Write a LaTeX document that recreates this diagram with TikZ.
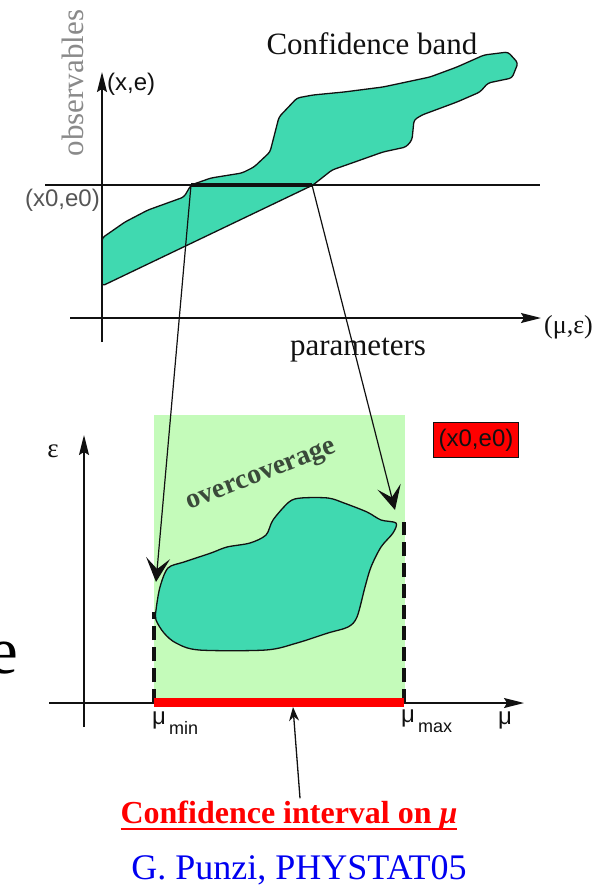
\documentclass[tikz,border=0pt]{standalone}
\usepackage{fontspec}
\setmainfont{Liberation Serif}
\setsansfont{Liberation Sans}
\usetikzlibrary{arrows.meta}
\definecolor{ink}{HTML}{111111}
\definecolor{gr}{HTML}{8A8A8A}
\definecolor{dgr}{HTML}{555555}
\definecolor{bandf}{HTML}{40D9B0}
\definecolor{regf}{HTML}{C4FBBA}
\definecolor{rd}{HTML}{FF0000}
\definecolor{bl}{HTML}{0000F0}
\definecolor{ovc}{HTML}{3A4A3A}
\tikzset{
  axis/.style={-{Stealth[length=20pt,width=10pt,inset=3pt]},line width=1.5pt,ink},
  rule/.style={line width=1.3pt,ink},
  band/.style={fill=bandf,draw=ink,line width=1.3pt},
  proj/.style={-{Stealth[length=24pt,width=24pt,inset=11pt]},line width=1.2pt,ink},
  edgeln/.style={line width=4pt,ink,dash pattern=on 14pt off 7pt},
  lab/.style={font=\fontsize{31}{34}\selectfont,inner sep=0pt,text=ink},
  slab/.style={font=\sffamily\fontsize{24}{26}\selectfont,inner sep=0pt,text=ink},
  mlab/.style={font=\fontsize{27}{29}\selectfont,inner sep=0pt,text=ink}
}
\newcommand{\ulred}[1]{\setbox0\hbox{#1}\rlap{\rule[-7pt]{\wd0}{2.2pt}}\box0}

\begin{document}
\begin{tikzpicture}[x=1pt,y=-1pt]
\useasboundingbox (0,0) rectangle (609,888);
% ---------------- top: confidence band ----------------
\filldraw[band,rounded corners=3pt] (102,238) -- (125,222) -- (148,210) -- (184,197) -- (191,185) -- (211,178) -- (242,173) -- (254,167) -- (270,152) -- (279,117) -- (297,98) -- (313,95) -- (344,92) -- (383,87) -- (430,77) -- (457,67) -- (484,55) -- (508,52) -- (518,63) -- (512,78) -- (488,83) -- (480,92) -- (457,102) -- (422,115) -- (414,120) -- (412,140) -- (406,147) -- (383,152) -- (352,163) -- (332,170) -- (313,185) -- (102,286) -- cycle;
\coordinate (ybot) at (102,342);\coordinate (ytop) at (102,72);
\coordinate (xl) at (70,318);\coordinate (xr) at (541,318);
\coordinate (hl) at (45,185);\coordinate (hr) at (540,185);
\coordinate (lo) at (191,185);\coordinate (hi) at (312,185);
\draw[axis] (ybot) -- (ytop);
\draw[axis] (xl) -- (xr);
\draw[rule] (hl) -- (hr);
\draw[line width=4pt,ink] (lo) -- (hi);
\node[lab,text=gr,rotate=90,anchor=base] (obs) at (83,83) {observables};
\node[slab,anchor=west] (xe) at (107,84) {(x,e)};
\node[slab,text=dgr,anchor=east] (xe0) at (100,200) {(x0,e0)};
\node[lab,anchor=base] (cband) at (372,55) {Confidence band};
\node[lab,anchor=base] (par) at (358,355) {parameters};
\node[mlab,font=\fontsize{26}{28}\selectfont,anchor=west] (pe) at (544,327) {(μ,ε)};
% ---------------- bottom: region in (mu,eps) ----------------
\fill[regf] (154,415) rectangle (405,700);
\filldraw[band] plot[smooth cycle,tension=0.5] coordinates {(156,610) (160,587) (168,568) (184,562) (211,553) (227,547) (250,543) (266,535) (273,520) (289,502) (301,498) (328,498) (344,503) (367,512) (381,520) (396,523) (393,533) (381,547) (371,567) (365,587) (357,617) (348,627) (328,633) (297,643) (266,650) (199,650) (176,643) (164,633) (156,620)};
\coordinate (mnb) at (154,703);\coordinate (mnt) at (154,612);
\coordinate (mxb) at (404,703);\coordinate (mxt) at (404,522);
\draw[edgeln] (mnb) -- (mnt);
\draw[edgeln] (mxb) -- (mxt);
\coordinate (ebot) at (84,727);\coordinate (etop) at (84,435);
\coordinate (ml) at (49,703);\coordinate (mr) at (524,703);
\draw[axis] (ebot) -- (etop);
\draw[axis] (ml) -- (mr);
\draw[line width=9pt,rd] (154,702.5) -- (404,702.5);
\coordinate (barmid) at (293,707);
\node[mlab] (eps) at (53,451) {ε};
\node[slab,fill=rd,draw=ink,line width=1.5pt,inner sep=1pt,minimum width=85pt,minimum height=35pt] (tag) at (476,440) {(x0,e0)};
\node[font=\bfseries\fontsize{28}{30}\selectfont,text=ovc,inner sep=0pt,rotate=21] (ovc) at (262,477) {overcoverage};
\node[slab,anchor=north west] (mumin) at (152,712) {μ\raisebox{-10pt}{\fontsize{18}{19}\selectfont\,min}};
\node[slab,anchor=north west] (mumax) at (401,710) {μ\raisebox{-10pt}{\fontsize{18}{19}\selectfont\,max}};
\node[slab,anchor=north west] (mu) at (498,712) {μ};
\node[anchor=base east,inner sep=0pt,font=\fontsize{67}{70}\selectfont] (bige) at (18,673) {e};
% ---------------- projections ----------------
\coordinate (lotip) at (156,582);\coordinate (hitip) at (395,510);
\draw[proj] (lo) -- (lotip);
\draw[proj] (hi) -- (hitip);
% ---------------- captions ----------------
\node[font=\bfseries\fontsize{32}{35}\selectfont,text=rd,inner sep=0pt,anchor=base] (ci) at (289,823) {\ulred{Confidence interval on \textit{μ}}};
\draw[-{Stealth[length=14pt,width=10pt]},line width=1.3pt,ink] ([xshift=11pt,yshift=2pt]ci.north) -- (barmid);
\node[font=\fontsize{36}{39}\selectfont,text=bl,inner sep=0pt,anchor=base] (pz) at (299,879) {G. Punzi, PHYSTAT05};
\end{tikzpicture}
\end{document}
